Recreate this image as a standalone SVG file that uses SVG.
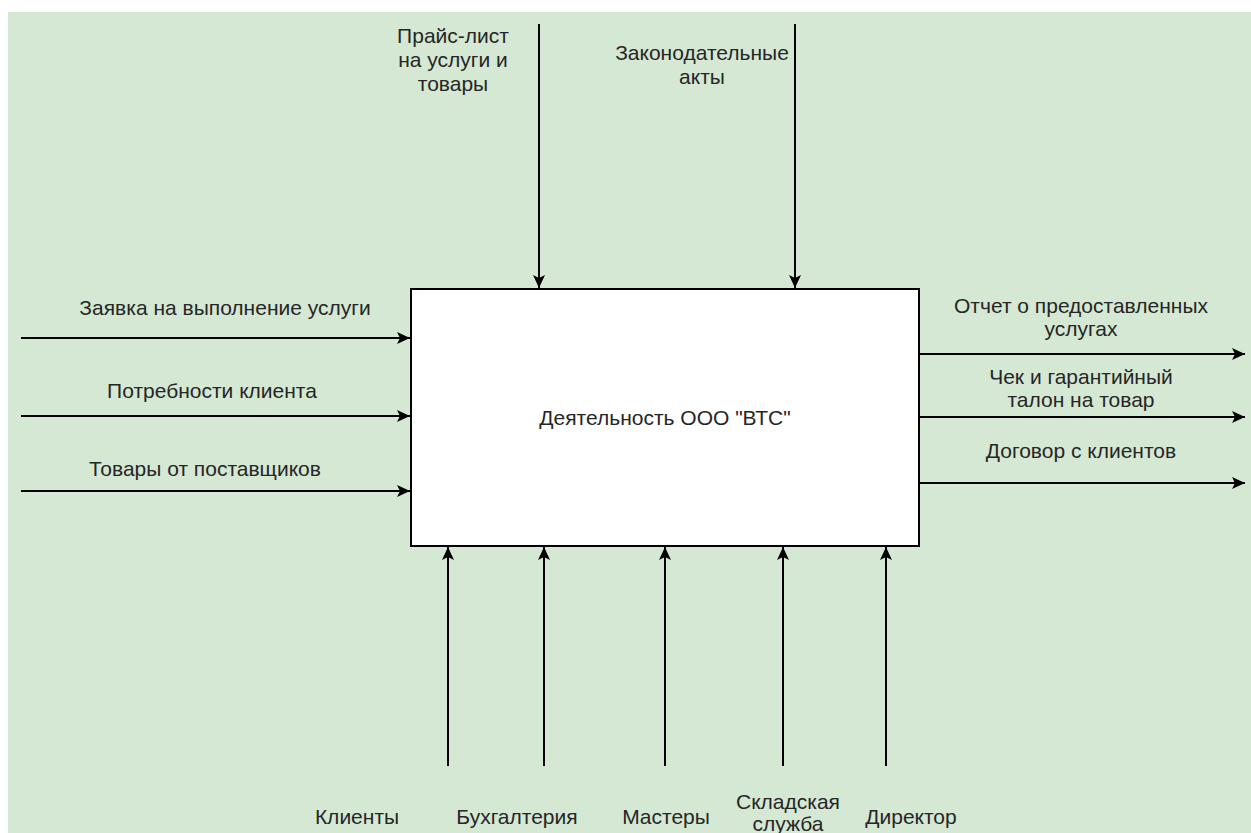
<svg xmlns="http://www.w3.org/2000/svg" width="1251" height="833" viewBox="0 0 1251 833">
<style>
  text { font-family: "Liberation Sans", Arial, sans-serif; font-size: 21px; fill: #262626; text-anchor: middle; dominant-baseline: central; }
  .conn { stroke: #000; stroke-width: 2; fill: none; marker-end: url(#arr); }
</style>
<defs>
  <marker id="arr" markerUnits="userSpaceOnUse" markerWidth="14" markerHeight="12" refX="13" refY="6" orient="auto">
    <path d="M0,0 L13,6 L0,12 L3,6 Z" fill="#000"/>
  </marker>
</defs>
<rect x="8" y="12" width="1243" height="821" fill="#d5e8d4"/>
<g id="main">
  <rect x="411" y="289" width="508" height="257" fill="#fff" stroke="#000" stroke-width="2"/>
  <text x="665" y="417">Деятельность ООО "ВТС"</text>
</g>
<g id="connectors">
  <line class="conn" x1="539" y1="24" x2="539" y2="288"/>
  <line class="conn" x1="795" y1="24" x2="795" y2="288"/>
  <line class="conn" x1="21" y1="338" x2="410" y2="338"/>
  <line class="conn" x1="21" y1="416" x2="410" y2="416"/>
  <line class="conn" x1="21" y1="491" x2="410" y2="491"/>
  <line class="conn" x1="919" y1="354" x2="1245" y2="354"/>
  <line class="conn" x1="919" y1="417" x2="1245" y2="417"/>
  <line class="conn" x1="919" y1="483" x2="1245" y2="483"/>
  <line class="conn" x1="448" y1="766" x2="448" y2="547"/>
  <line class="conn" x1="544" y1="766" x2="544" y2="547"/>
  <line class="conn" x1="665" y1="766" x2="665" y2="547"/>
  <line class="conn" x1="783" y1="766" x2="783" y2="547"/>
  <line class="conn" x1="886" y1="766" x2="886" y2="547"/>
</g>
<g id="label-price">
  <text x="453" y="35">Прайс-лист</text>
  <text x="453" y="59">на услуги и</text>
  <text x="453" y="83">товары</text>
</g>
<g id="label-law">
  <text x="702" y="52">Законодательные</text>
  <text x="702" y="76">акты</text>
</g>
<g id="label-in1"><text x="225" y="307">Заявка на выполнение услуги</text></g>
<g id="label-in2"><text x="212" y="390">Потребности клиента</text></g>
<g id="label-in3"><text x="205" y="468">Товары от поставщиков</text></g>
<g id="label-out1">
  <text x="1081" y="305">Отчет о предоставленных</text>
  <text x="1081" y="328">услугах</text>
</g>
<g id="label-out2">
  <text x="1081" y="376">Чек и гарантийный</text>
  <text x="1081" y="399">талон на товар</text>
</g>
<g id="label-out3"><text x="1081" y="450">Договор с клиентов</text></g>
<g id="label-m1"><text x="357" y="816">Клиенты</text></g>
<g id="label-m2"><text x="517" y="816">Бухгалтерия</text></g>
<g id="label-m3"><text x="666" y="816">Мастеры</text></g>
<g id="label-m4">
  <text x="788" y="801">Складская</text>
  <text x="788" y="823">служба</text>
</g>
<g id="label-m5"><text x="911" y="816">Директор</text></g>
</svg>
